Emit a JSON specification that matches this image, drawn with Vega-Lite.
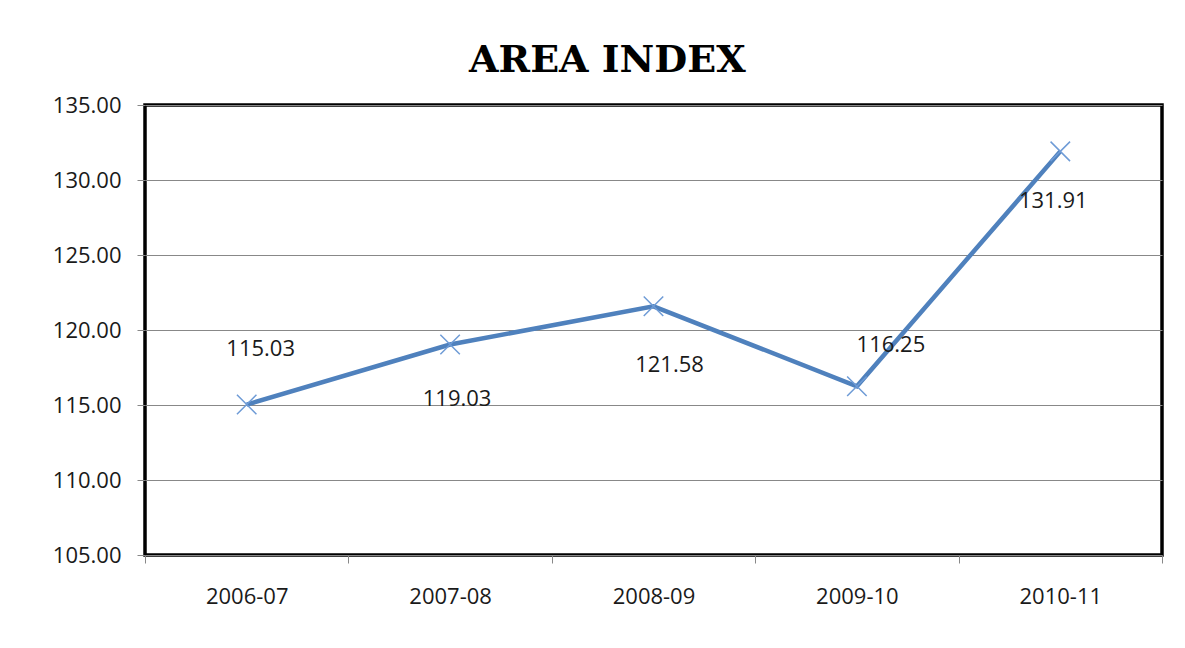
{
  "$schema": "https://vega.github.io/schema/vega-lite/v6.json",
  "width": 1017,
  "height": 450,
  "autosize": {"type": "none"},
  "padding": {"left": 145, "top": 105, "right": 23, "bottom": 93},
  "background": "white",
  "title": {
    "text": "AREA INDEX",
    "font": "DejaVu Serif",
    "fontWeight": "bold",
    "fontSize": 38,
    "color": "black",
    "anchor": "middle",
    "frame": "bounds",
    "offset": 14
  },
  "data": {
    "values": [
      {"year": "2006-07", "index": 115.03},
      {"year": "2007-08", "index": 119.03},
      {"year": "2008-09", "index": 121.58},
      {"year": "2009-10", "index": 116.25},
      {"year": "2010-11", "index": 131.91}
    ]
  },
  "config": {
    "view": {"stroke": "black", "strokeWidth": 3.5},
    "axis": {
      "labelFont": "Open Sans",
      "labelFontSize": 22,
      "labelColor": "#1a1a1a",
      "tickColor": "#888888",
      "tickSize": 8,
      "domain": false,
      "title": null
    }
  },
  "encoding": {
    "x": {
      "field": "year",
      "type": "ordinal",
      "bandPosition": 0.5,
      "scale": {"type": "band", "paddingInner": 0, "paddingOuter": 0},
      "axis": {"labelAngle": 0, "tickBand": "extent", "labelPadding": 23, "grid": false}
    },
    "y": {
      "field": "index",
      "type": "quantitative",
      "scale": {"domain": [105, 135], "nice": false, "zero": false},
      "axis": {
        "values": [105, 110, 115, 120, 125, 130, 135],
        "format": ".2f",
        "labelPadding": 16,
        "grid": true,
        "gridColor": "#888888",
        "gridWidth": 1
      }
    }
  },
  "layer": [
    {"mark": {"type": "line", "color": "#4F81BD", "strokeWidth": 4.5}},
    {
      "mark": {
        "type": "point",
        "shape": "M-1,-1L1,1M-1,1L1,-1",
        "filled": false,
        "stroke": "#6E9BD6",
        "strokeWidth": 1.5,
        "size": 380,
        "opacity": 1
      }
    },
    {
      "transform": [{"filter": "datum.year == '2006-07'"}],
      "mark": {"type": "text", "font": "Open Sans", "fontSize": 22, "color": "#1a1a1a", "dx": 14, "dy": -56},
      "encoding": {"text": {"field": "index", "type": "quantitative", "format": ".2f"}}
    },
    {
      "transform": [{"filter": "datum.year == '2007-08'"}],
      "mark": {"type": "text", "font": "Open Sans", "fontSize": 22, "color": "#1a1a1a", "dx": 7, "dy": 54},
      "encoding": {"text": {"field": "index", "type": "quantitative", "format": ".2f"}}
    },
    {
      "transform": [{"filter": "datum.year == '2008-09'"}],
      "mark": {"type": "text", "font": "Open Sans", "fontSize": 22, "color": "#1a1a1a", "dx": 16, "dy": 59},
      "encoding": {"text": {"field": "index", "type": "quantitative", "format": ".2f"}}
    },
    {
      "transform": [{"filter": "datum.year == '2009-10'"}],
      "mark": {"type": "text", "font": "Open Sans", "fontSize": 22, "color": "#1a1a1a", "dx": 34, "dy": -41},
      "encoding": {"text": {"field": "index", "type": "quantitative", "format": ".2f"}}
    },
    {
      "transform": [{"filter": "datum.year == '2010-11'"}],
      "mark": {"type": "text", "font": "Open Sans", "fontSize": 22, "color": "#1a1a1a", "dx": -7, "dy": 50},
      "encoding": {"text": {"field": "index", "type": "quantitative", "format": ".2f"}}
    }
  ]
}
